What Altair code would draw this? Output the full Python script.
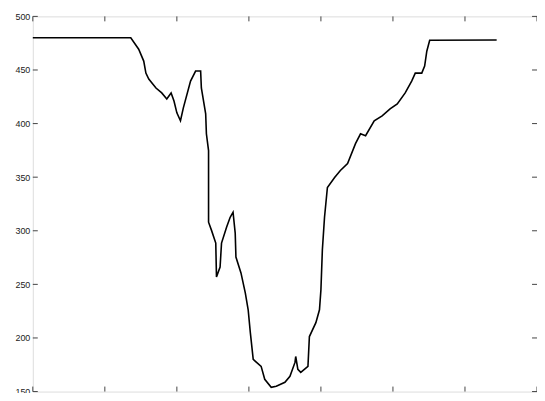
import altair as alt
import pandas as pd

# traced series (x, y)
xs = [0, 136, 147, 154, 157, 161, 171, 179, 186, 192, 196, 200, 205, 209, 219, 226, 233, 234,
      240, 241, 244, 244, 248, 254, 255, 260, 262, 269, 274, 278, 281, 282, 289, 295, 299, 302,
      306, 317, 322, 331, 338, 350, 357, 364, 365, 368, 372, 382, 384, 393, 398, 400, 402, 405,
      409, 419, 427, 437, 448, 455, 462, 474, 485, 496, 506, 517, 526, 531, 540, 544, 547, 551, 644]
ys = [480, 480, 469.4, 458.3, 447.1, 441.6, 433.2, 428.6, 423, 428.6, 421.1, 410, 402.6, 414.7,
      439.7, 449, 449, 433.2, 409.1, 390.5, 374.8, 308, 300.6, 288.5, 257, 266.2, 288.5, 303.3,
      312.6, 317.3, 297.8, 275.5, 260.7, 242.1, 226.3, 205, 180, 173.5, 161.4, 154, 155, 158.6,
      164.2, 177.2, 182.7, 170.7, 167.9, 173.5, 201.3, 214.3, 226.3, 244.9, 282, 312.6, 340.4,
      349.7, 356.2, 362.7, 381.3, 390.5, 388.7, 402.6, 407.2, 413.7, 418.4, 428.6, 439.7, 447.1,
      447.1, 453.6, 467.5, 477.7, 478]

x_ticks = [0, 100, 200, 300, 400, 500, 600, 700]
y_ticks = [150, 200, 250, 300, 350, 400, 450, 500]

W, H = 508, 378
df = pd.DataFrame({"x": xs, "y": ys})
xt = pd.DataFrame({"t": x_ticks})
yt = pd.DataFrame({"t": y_ticks})

xscale = alt.Scale(domain=[0, 700], nice=False, zero=False)
yscale = alt.Scale(domain=[150, 500], nice=False, zero=False)

axis_style = dict(ticks=False, grid=False, domain=False, labelFont="Liberation Sans",
                  labelFontSize=9, labelColor="#222", title=None)

line = alt.Chart(df).mark_line(color="black", strokeWidth=1.6).encode(
    x=alt.X("x:Q", scale=xscale, axis=alt.Axis(values=x_ticks, labelPadding=3, **axis_style)),
    y=alt.Y("y:Q", scale=yscale, axis=alt.Axis(values=y_ticks, labelPadding=3, **axis_style)),
    order="idx:Q" if False else alt.Order("x:Q"),
)
line = alt.Chart(df.reset_index()).mark_line(color="black", strokeWidth=1.6).encode(
    x=alt.X("x:Q", scale=xscale, axis=alt.Axis(values=x_ticks, labelPadding=3, **axis_style)),
    y=alt.Y("y:Q", scale=yscale, axis=alt.Axis(values=y_ticks, labelPadding=3, **axis_style)),
    order=alt.Order("index:Q"),
)

tick_color = "#444"
xb = alt.Chart(xt).mark_rule(color=tick_color).encode(
    x=alt.X("t:Q", scale=xscale), y=alt.value(H), y2=alt.value(H - 5))
xtp = alt.Chart(xt).mark_rule(color=tick_color).encode(
    x=alt.X("t:Q", scale=xscale), y=alt.value(0), y2=alt.value(5))
yl = alt.Chart(yt).mark_rule(color=tick_color).encode(
    y=alt.Y("t:Q", scale=yscale), x=alt.value(0), x2=alt.value(5))
yr = alt.Chart(yt).mark_rule(color=tick_color).encode(
    y=alt.Y("t:Q", scale=yscale), x=alt.value(W), x2=alt.value(W - 5))

chart = alt.layer(line, xb, xtp, yl, yr).properties(
    width=W, height=H,
    autosize=alt.AutoSizeParams(type="none"),
    padding={"left": 25, "top": 7, "right": 0, "bottom": 0},
).configure_view(stroke="#444", strokeWidth=1.5).configure(background="white")

chart.save("out.html", embed_options={"renderer": "svg", "actions": False})
